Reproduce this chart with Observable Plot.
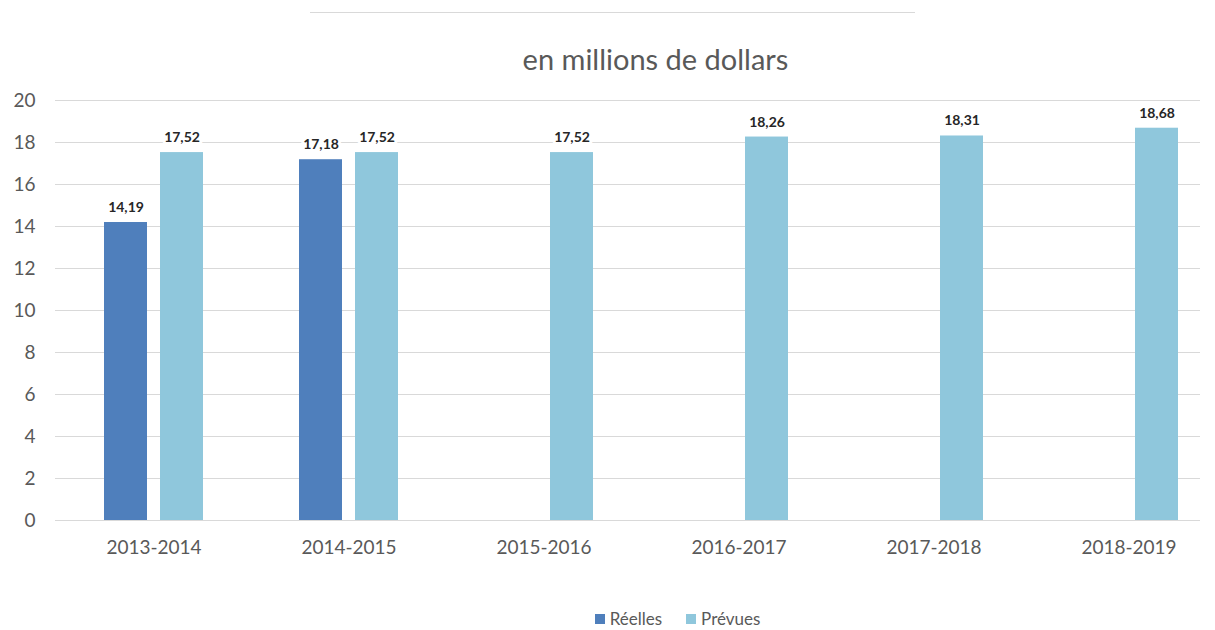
<!DOCTYPE html>
<html><head><meta charset="utf-8">
<script src="https://cdn.jsdelivr.net/npm/d3@7"></script>
<script src="https://cdn.jsdelivr.net/npm/@observablehq/plot@0.6"></script>
<style>
body{margin:0;background:#fff;font-family:Lato,sans-serif;}
#wrap{position:relative;width:1215px;height:630px;overflow:hidden;}
#topline{position:absolute;left:310px;top:12px;width:605px;height:0;border-top:1px solid #d9d9d9;}
#subtitle{position:absolute;left:96px;width:1119px;top:42px;text-align:center;font-size:29px;color:#595959;line-height:34px;}
#chart{position:absolute;left:0;top:80px;}
#legend{position:absolute;top:607px;left:140px;width:1075px;display:flex;justify-content:center;gap:24px;font-size:17px;color:#595959;line-height:24px;}
#legend span{display:inline-flex;align-items:center;}
.sw{display:inline-block;width:10px;height:10px;margin-right:5px;}
</style></head><body>
<div id="wrap">
<div id="topline"></div>
<div id="subtitle">en millions de dollars</div>
<div id="chart"></div>
<div id="legend"></div>
</div>
<script>
const years = ["2013-2014","2014-2015","2015-2016","2016-2017","2017-2018","2018-2019"];
const reelles = [14.19, 17.18, null, null, null, null];
const prevues = [17.52, 17.52, 17.52, 18.26, 18.31, 18.68];
const yTicks = [0,2,4,6,8,10,12,14,16,18,20];
const seriesNames = ["Réelles","Prévues"];
const seriesColors = ["#4f7fbc","#8fc7dc"];

const fmt = v => v.toFixed(2).replace(".", ",");
const rows = years.map((y,i)=>({year:y, reelles:reelles[i], prevues:prevues[i]}));
const R = rows.filter(d=>d.reelles!=null);

const chart = Plot.plot({
  width:1215, height:510, marginTop:20, marginBottom:70, marginLeft:55, marginRight:15,
  style:{fontFamily:"Lato, sans-serif", fontSize:"19px", color:"#595959", background:"white"},
  x:{domain:years, paddingInner:0.49, paddingOuter:0.166, align:0.69, label:null, tickSize:0, tickPadding:20},
  y:{domain:[0,20], ticks:yTicks, label:null, tickSize:0, tickPadding:20},
  marks:[
    Plot.ruleY(yTicks, {stroke:"#d9d9d9"}),
    Plot.barY(R, {x:"year", y:"reelles", fill:seriesColors[0], insetRight:56}),
    Plot.barY(rows, {x:"year", y:"prevues", fill:seriesColors[1], insetLeft:56}),
    Plot.text(R, {x:"year", y:"reelles", text:d=>fmt(d.reelles), dx:-28, dy:-15, fill:"#262626", stroke:"white", strokeWidth:6, paintOrder:"stroke", fontSize:14, fontWeight:"bold"}),
    Plot.text(rows, {x:"year", y:"prevues", text:d=>fmt(d.prevues), dx:28, dy:-15, fill:"#262626", stroke:"white", strokeWidth:6, paintOrder:"stroke", fontSize:14, fontWeight:"bold"})
  ]
});
document.getElementById("chart").appendChild(chart);

const lg = document.getElementById("legend");
seriesNames.forEach((n,i)=>{
  const s = document.createElement("span");
  s.innerHTML = `<i class="sw" style="background:${seriesColors[i]}"></i>${n}`;
  lg.appendChild(s);
});
</script>
</body></html>
